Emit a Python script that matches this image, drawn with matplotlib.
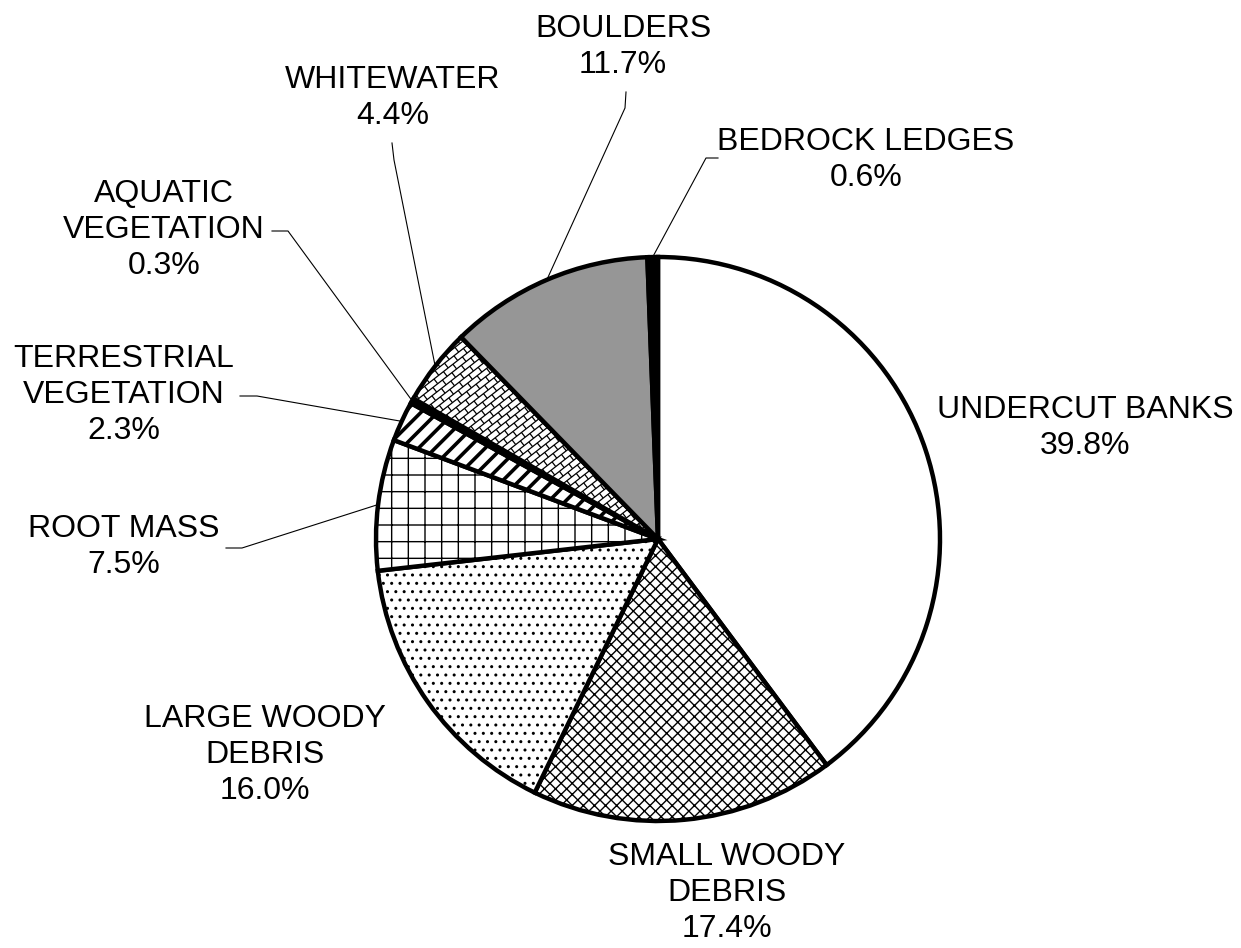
import matplotlib
matplotlib.use("Agg")
import matplotlib.pyplot as plt
from matplotlib.collections import LineCollection
import numpy as np

# Instream cover types and their share of total cover (%)
categories = [
    "UNDERCUT BANKS",
    "SMALL WOODY\nDEBRIS",
    "LARGE WOODY\nDEBRIS",
    "ROOT MASS",
    "TERRESTRIAL\nVEGETATION",
    "AQUATIC\nVEGETATION",
    "WHITEWATER",
    "BOULDERS",
    "BEDROCK LEDGES",
]
percentages = [39.8, 17.4, 16.0, 7.5, 2.3, 0.3, 4.4, 11.7, 0.6]

fill_colors = ["white", "white", "white", "white", "white",
               "black", "white", "#969696", "black"]
hatches = [None, "xxx", "..", "+", "//", None, "brick", None, None]

W, H = 1241, 948

# label block centres (pixels from top-left) and optional leader elbows
label_pos = [
    (1085, 428), (727, 893), (265, 755), (124, 547), (124, 395),
    (164, 230), (393, 98), (623, 47), (866, 160),
]
leaders = [
    None, None, None,
    [(226, 548), (242, 548)],
    [(240, 396), (257, 396)],
    [(272, 231), (288, 231)],
    [(392, 143), (394, 160)],
    [(626, 92), (625, 108)],
    [(718, 158), (706, 158)],
]

plt.rcParams["font.family"] = ["Liberation Sans", "DejaVu Sans"]
plt.rcParams["hatch.linewidth"] = 1.0

fig = plt.figure(figsize=(W / 100, H / 100), dpi=100)
ax = fig.add_axes([0, 0, 1, 1])

cx, cy, R = 658, H - 539, 282
std_hatches = [h if h != "brick" else None for h in hatches]
wedges, _ = ax.pie(
    percentages,
    colors=fill_colors,
    hatch=std_hatches,
    startangle=90,
    counterclock=False,
    center=(cx, cy),
    radius=R,
    wedgeprops=dict(edgecolor="black", linewidth=3.2),
)
for w, h in zip(wedges, hatches):
    lw = 2.6 if h == "//" else 1.0
    if hasattr(w, "set_hatch_linewidth"):
        w.set_hatch_linewidth(lw)
    else:
        w._hatch_linewidth = lw


def brick_pattern(center, radius, spacing=6.0, length=12.0, angle=38.0):
    """Diagonal running-bond brick lines covering a disc."""
    a = np.deg2rad(angle)
    u = np.array([np.cos(a), np.sin(a)])
    v = np.array([-np.sin(a), np.cos(a)])
    c = np.asarray(center, dtype=float)
    n = int(radius / spacing) + 2
    m = int(radius / length) + 2
    segs = []
    for i in range(-n, n + 1):
        base = c + v * i * spacing
        segs.append([base - u * radius * 1.2, base + u * radius * 1.2])
        shift = (i % 2) * length / 2
        for j in range(-m, m + 1):
            p = base + u * (j * length + shift)
            segs.append([p, p + v * spacing])
    return segs


for w, h in zip(wedges, hatches):
    if h == "brick":
        lc = LineCollection(brick_pattern(w.center, w.r), colors="black",
                            linewidths=0.9, zorder=w.get_zorder())
        ax.add_collection(lc)
        lc.set_clip_path(w)

ax.set_xlim(0, W)
ax.set_ylim(0, H)
ax.set_aspect("equal")
ax.set_axis_off()

for w, name, val, (lx, ly), lead in zip(wedges, categories, percentages,
                                         label_pos, leaders):
    ax.text(lx, H - ly, f"{name}\n{val:.1f}%", ha="center", va="center",
            fontsize=23, linespacing=1.27, color="black")
    if lead:
        mid = np.deg2rad((w.theta1 + w.theta2) / 2)
        px = w.center[0] + w.r * np.cos(mid)
        py = w.center[1] + w.r * np.sin(mid)
        xs = [p[0] for p in lead] + [px]
        ys = [H - p[1] for p in lead] + [py]
        ax.plot(xs, ys, color="black", linewidth=0.8, zorder=0.5)

fig.savefig("out.png", dpi=100, facecolor="white")
